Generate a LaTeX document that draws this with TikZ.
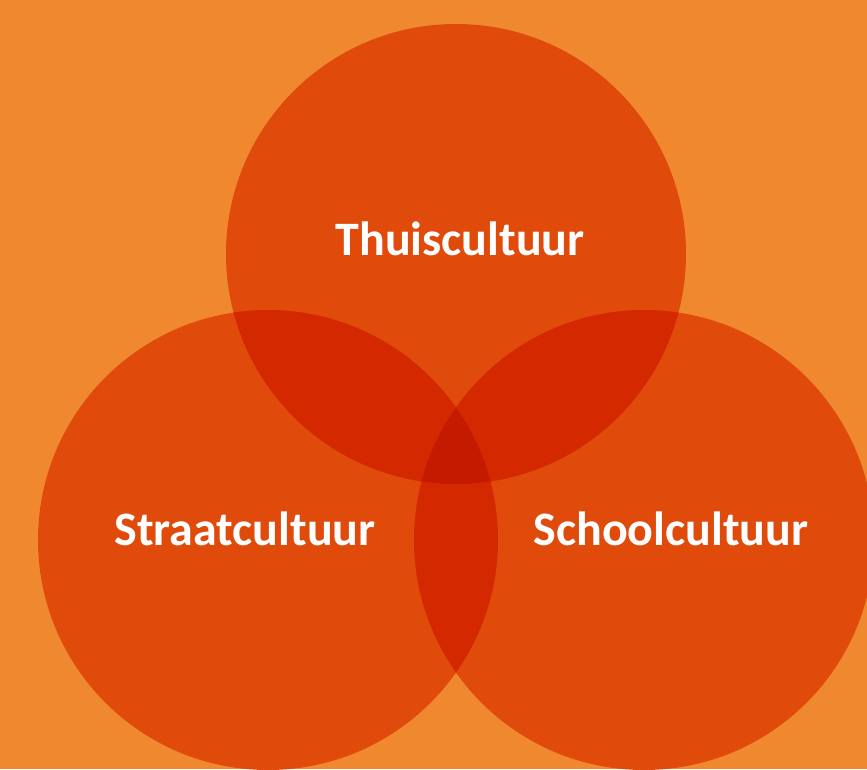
\documentclass[tikz,border=0pt]{standalone}
\usepackage{fontspec}
\setmainfont{Carlito}
\definecolor{bgorange}{RGB}{240,136,48}
\definecolor{ringone}{RGB}{224,74,10}
\definecolor{ringtwo}{RGB}{212,40,0}
\definecolor{ringthree}{RGB}{196,26,0}
\begin{document}
\begin{tikzpicture}
    [%%%%%%%%%%%%%%%%%%%%%%%%%%%%%%
        x=1pt, y=-1pt,
        ring/.style={circle, fill=ringone, minimum size=460pt, inner sep=0pt},
        naam/.style={text=white, anchor=base, font=\bfseries\fontsize{48}{58}\selectfont},
    ]%%%%%%%%%%%%%%%%%%%%%%%%%%%%%%
\fill[bgorange] (0,0) rectangle (867,769);
\useasboundingbox (0,0) rectangle (867,769);
\node[ring] (thuis) at (456,254) {};
\node[ring] (straat) at (268,540) {};
\node[ring] (school) at (644,540) {};

\begin{scope}
\clip (thuis.center) circle[radius=230pt];
\fill[ringtwo] (straat.center) circle[radius=230pt];
\fill[ringtwo] (school.center) circle[radius=230pt];
\end{scope}
\begin{scope}
\clip (straat.center) circle[radius=230pt];
\fill[ringtwo] (school.center) circle[radius=230pt];
\end{scope}
\begin{scope}
\clip (thuis.center) circle[radius=230pt];
\clip (straat.center) circle[radius=230pt];
\fill[ringthree] (school.center) circle[radius=230pt];
\end{scope}

\node[naam] (thuistekst) at (460,255) {Thuiscultuur};
\node[naam] (straattekst) at (245,545) {Straatcultuur};
\node[naam] (schooltekst) at (671,545) {Schoolcultuur};
\end{tikzpicture}
\end{document}
